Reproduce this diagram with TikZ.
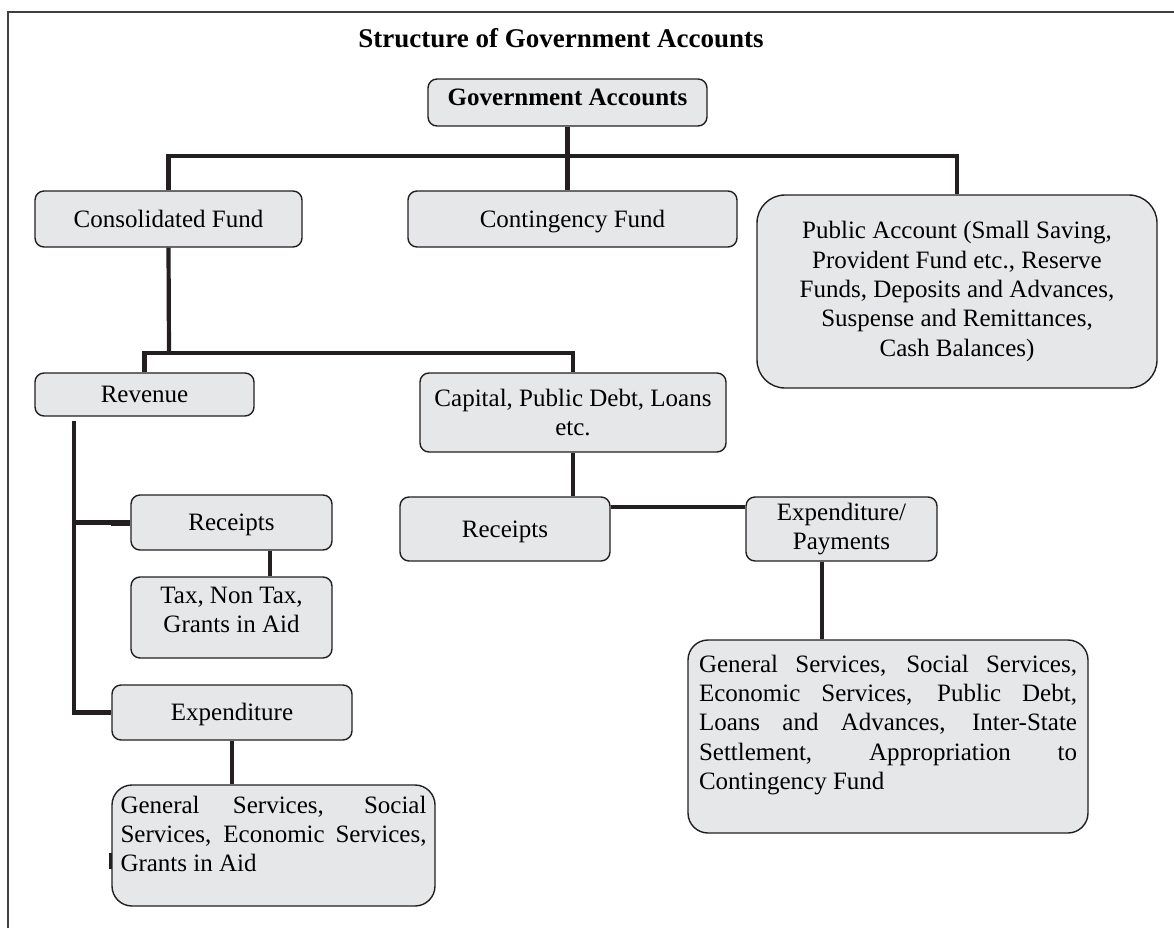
\documentclass[tikz,border=0pt]{standalone}
\usepackage{fontspec}
\setmainfont{Liberation Serif}
\usetikzlibrary{positioning}
\definecolor{boxgray}{HTML}{E6E7E8}
\definecolor{inkdark}{HTML}{231F20}
\tikzstyle{fundbox} = [
    rectangle,
    rounded corners=9pt,
    draw=inkdark,
    line width=1.4pt,
    fill=boxgray,
    align=center,
    inner sep=3pt,
    font=\fontsize{25}{29.3}\selectfont
]
\tikzstyle{oneline} = [
    fundbox,
    text height=17pt,
    text depth=0.5pt
]
\tikzstyle{headbox} = [
    oneline,
    text depth=11pt,
    font=\fontsize{25}{29.3}\selectfont\bfseries
]
\tikzstyle{listbox} = [
    fundbox,
    rounded corners=20pt,
    align=left
]
\tikzstyle{link} = [
    draw=inkdark,
    line width=4.2pt
]
\tikzset{boxsize/.style 2 args={minimum width=#1pt, minimum height=#2pt}}
\newcommand{\spreadline}[1]{\makebox[\linewidth][s]{#1}}

\begin{document}
\begin{tikzpicture}[x=1pt, y=1pt]
        \useasboundingbox (0,0) rectangle (1174,-928);
        \draw[line width=1.8pt, draw=black!75] (8,-928) -- (8,-12) -- (1174,-12);

        \node (title) [anchor=base, font=\fontsize{27}{32}\selectfont\bfseries] at (561,-48) {Structure of Government Accounts};
        \node (ga) [headbox, boxsize={279}{47}] at (567.5,-102.5) {Government Accounts};

        \node (cf) [oneline, boxsize={267}{56}] at (168.5,-219) {Consolidated Fund};
        \node (cont) [oneline, boxsize={329}{56}] at (572.5,-219) {Contingency Fund};
        \node (pa) [fundbox, rounded corners=28pt, boxsize={400}{193}] at (957,-291.5) {Public Account (Small Saving,\\Provident Fund etc., Reserve\\Funds, Deposits and Advances,\\Suspense and Remittances,\\Cash Balances)};

        \node (rev) [oneline, boxsize={219}{43}] at (144.5,-394.5) {Revenue};
        \node (cap) [fundbox, boxsize={306}{79}] at (573,-412.5) {Capital, Public Debt, Loans\\etc.};

        \node (rc) [oneline, boxsize={201}{55}] at (231.5,-522.5) {Receipts};
        \node (tax) [fundbox, text depth=15pt, boxsize={201}{81}] at (231.5,-617.5) {Tax, Non Tax,\\Grants in Aid};
        \node (exp) [oneline, boxsize={240}{55}] at (232,-712.5) {Expenditure};
        \node (explist) [listbox, inner xsep=8pt, inner ysep=11pt, boxsize={323}{121}] at (273.5,-845.5) {\parbox[c][99pt][t]{306pt}{\spreadline{General Services, Social}\\
            \spreadline{Services, Economic Services,}\\
            Grants in Aid}};

        \node (rc2) [oneline, boxsize={210}{64}] at (505,-529) {Receipts};
        \node (ep) [fundbox, boxsize={191}{64}] at (841.5,-529) {Expenditure/\\Payments};
        \node (paylist) [listbox, inner xsep=11pt, inner ysep=15pt, boxsize={400}{193}] at (888,-736.5) {\parbox[c][163pt][t]{378pt}{\spreadline{General Services, Social Services,}\\
            \spreadline{Economic Services, Public Debt,}\\
            \spreadline{Loans and Advances, Inter-State}\\
            \spreadline{Settlement, Appropriation to}\\
            Contingency Fund}};

        % top level
        \coordinate (topbar) at (569,-156);
        \draw[link] (ga.south) -- (ga.south |- cont.north);
        \draw[link] (cf.north) |- (topbar) -| (pa.north);

        % consolidated fund
        \coordinate (midbar) at (169,-353);
        \draw[link] (cf.south) -- (midbar);
        \draw[link] (rev.north) |- (midbar) -| (cap.north);

        % revenue side
        \coordinate (trunk) at (74,-421);
        \draw[link] (trunk) |- (exp.west);
        \draw[link] (trunk |- rc.west) -- (rc.west);
        \draw[link, line width=6pt] (rc.west) -- ++(-19,0);
        \coordinate (taxdrop) at ([xshift=38.5pt]rc.south);
        \draw[link] (taxdrop) -- (taxdrop |- tax.north);
        \draw[link] (exp.south) -- (exp.south |- explist.north);
        \draw[line width=2.5pt, draw=inkdark] ([xshift=-1pt, yshift=-7pt]explist.west) -- ++(0,-16);

        % capital side
        \draw[link] (cap.south) -- (cap.south |- rc2.north);
        \coordinate (paylink) at ([yshift=-11pt]rc2.north east);
        \draw[link] (paylink) -- (paylink -| ep.west);
        \coordinate (paydrop) at ([xshift=-19.5pt]ep.south);
        \draw[link] (paydrop) -- (paydrop |- paylist.north);
    \end{tikzpicture}
\end{document}
